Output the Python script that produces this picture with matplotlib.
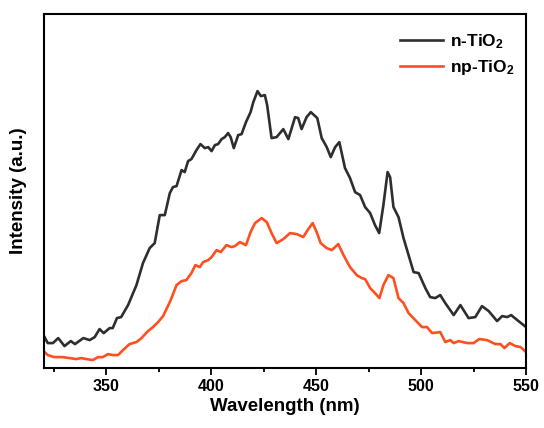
import matplotlib.pyplot as plt
from matplotlib.ticker import MultipleLocator, NullLocator

plt.rcParams['font.family'] = ['Liberation Sans', 'DejaVu Sans']
plt.rcParams['font.weight'] = 'bold'
plt.rcParams['mathtext.fontset'] = 'custom'
plt.rcParams['mathtext.rm'] = 'Liberation Sans:bold'
plt.rcParams['mathtext.default'] = 'rm'

# n-TiO2 spectrum (arbitrary units)
n_wl = [320, 322, 324.5, 327, 330, 333, 335, 339, 342, 344.4, 346.7, 348.7, 351.5, 353,
        355, 357, 360.3, 364.3, 367.4, 370.6, 373, 375.4, 377.8, 380.2, 381.7, 383.4,
        385.8, 387.3, 388.9, 390.5, 392.9, 394.8, 396.9, 398.5, 400.1, 401.7, 403.2,
        404.9, 406.4, 408, 409.2, 410.7, 412.8, 414.4, 416.5, 418.7, 420, 422, 423.6,
        425.5, 426.6, 428.7, 431.1, 434.3, 436.7, 439.9, 441.4, 443, 445.4, 447.4,
        450.5, 452.6, 455, 456.9, 459, 461, 463.7, 466.1, 468.5, 470.9, 473.3, 475.7,
        478, 480, 482, 484, 485.2, 486.8, 489.2, 491.6, 494, 496.4, 498.8, 502, 504.3,
        506.7, 509.1, 511.5, 515.5, 518.7, 522.6, 525.8, 529, 532.2, 536.2, 538.6, 541,
        542.9, 545.8, 550]
n_int = [33, 25, 25, 30, 22, 27, 24, 30, 28, 31, 39, 35, 40, 40,
         50, 51, 63, 83, 105, 120, 125, 153, 153, 175, 181, 182,
         198, 196, 207, 209, 218, 224, 220, 221, 217, 223, 224,
         229, 231, 235, 231, 220, 233, 234, 246, 256, 266, 277, 272,
         273, 263, 230, 231, 239, 229, 251, 250, 239, 251, 256,
         250, 230, 221, 211, 221, 226, 200, 190, 176, 173, 161, 155,
         143, 135, 163, 196, 191, 161, 151, 130, 113, 96, 95, 80, 71,
         70, 73, 65, 53, 63, 50, 51, 62, 57, 47, 52, 51,
         53, 48, 41]

# np-TiO2 spectrum
np_wl = [320, 322, 325, 329, 332.4, 335.6, 338, 340.4, 343.5, 346, 348.3, 350.7, 353,
         355.5, 357.9, 361, 364.3, 366.7, 369.8, 372.2, 374.6, 377, 380.2, 381, 383.4,
         385.8, 388.1, 390.5, 392.4, 394.5, 396.1, 398.5, 400.1, 402.5, 404.5, 407.2,
         409.6, 411.2, 413.6, 416.5, 418.7, 420.8, 424, 426.4, 428.7, 431.1, 434.3,
         437.5, 440.7, 443.8, 446.2, 448.3, 450.2, 452.1, 455, 457.4, 460.5, 463, 466.1,
         469.3, 471.7, 473.3, 475.7, 478, 480.1, 482, 484.4, 486.8, 489.2, 491.6, 494,
         497.2, 500.4, 502.8, 505.2, 509.1, 511.5, 513.9, 515.5, 517.9, 521.9, 525,
         527.7, 531.4, 535.4, 537.8, 539.7, 542.2, 545, 547.4, 550]
np_int = [17, 13, 11, 11, 10, 9, 10, 9, 8, 11, 11, 14, 13,
          13, 18, 24, 26, 30, 37, 41, 46, 52, 66, 70, 83,
          87, 88, 95, 103, 101, 106, 108, 111, 118, 116, 123,
          121, 122, 126, 123, 136, 145, 150, 146, 135, 125, 129,
          135, 134, 131, 139, 145, 136, 125, 120, 118, 124, 113, 101,
          93, 90, 89, 80, 75, 70, 83, 93, 90, 70, 65, 55,
          48, 41, 41, 35, 36, 26, 28, 25, 27, 25, 25,
          29, 28, 24, 24, 20, 25, 22, 21, 16]

fig = plt.figure(figsize=(5.44, 4.28), dpi=100)
ax = fig.add_axes([0.080, 0.140, 0.887, 0.827])

ax.plot(n_wl, n_int, color='#2e2e2e', linewidth=1.9, label='n-TiO$_2$', solid_joinstyle='round')
ax.plot(np_wl, np_int, color='#ff4f1f', linewidth=1.9, label='np-TiO$_2$', solid_joinstyle='round')

ax.set_xlim(320, 550)
ax.set_ylim(0, 354)
ax.xaxis.set_major_locator(MultipleLocator(50))
ax.xaxis.set_minor_locator(MultipleLocator(25))
ax.yaxis.set_major_locator(NullLocator())
ax.tick_params(axis='x', which='major', direction='out', length=4.8, width=1.3, labelsize=11.5, pad=3)
ax.tick_params(axis='x', which='minor', direction='out', length=3.2, width=1.3)
for s in ax.spines.values():
    s.set_linewidth(1.5)

ax.set_xlabel('Wavelength (nm)', fontsize=13.5, fontweight='bold', labelpad=3)
ax.set_ylabel('Intensity (a.u.)', fontsize=13.5, fontweight='bold', labelpad=12)

ax.legend(loc='upper right', bbox_to_anchor=(0.996, 0.977), frameon=False, fontsize=12.5,
          handlelength=2.5, handletextpad=0.4, labelspacing=0.45, borderaxespad=0.15)

fig.savefig('out.png', dpi=100)
